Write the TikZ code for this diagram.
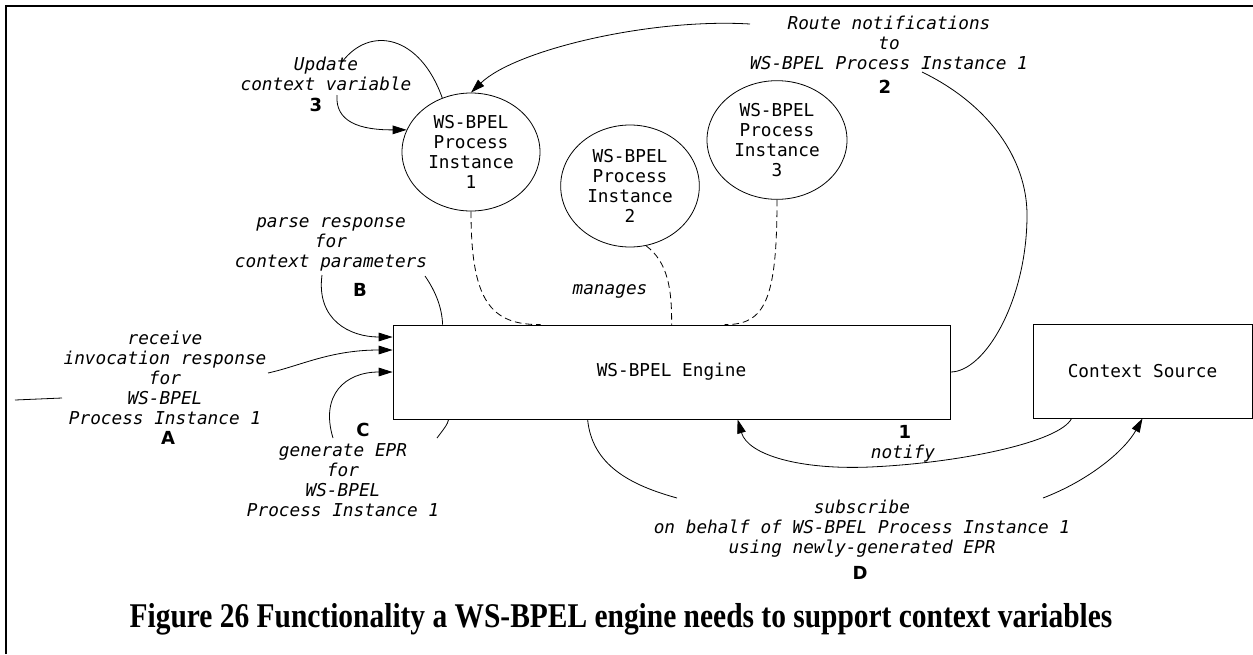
\documentclass[tikz,border=0pt]{standalone}
\usepackage{fontspec}
\usepackage{graphicx}
\usetikzlibrary{shapes.geometric,arrows.meta}
\newfontfamily\monof{DejaVu Sans Mono}
\newfontfamily\labf{DejaVu Sans}
\newfontfamily\capf{Liberation Serif}
\begin{document}
\begin{tikzpicture}[x=0.75pt,y=-0.75pt,
  mono/.style={font=\monof\fontsize{13.3}{15}\selectfont, align=center, inner sep=0pt},
  ital/.style={font=\monof\itshape\fontsize{13.3}{15}\selectfont, align=center, inner sep=0pt},
  num/.style={font=\labf\bfseries\fontsize{13.5}{15}\selectfont, inner sep=0pt},
  inst/.style={draw, ellipse, line width=0.6pt, mono},
  box/.style={draw, rectangle, line width=0.6pt, mono},
  conn/.style={line width=0.6pt},
  arr/.style={conn, -{Triangle[length=10.5pt,width=6.5pt]}},
  dsh/.style={conn, dash pattern=on 5pt off 3pt}]
\useasboundingbox (0,0) rectangle (1253,654);
\draw[line width=1.7pt] (6,654) -- (6,6) -- (1253,6);

% process instances
\node[inst, minimum width=103.5pt, minimum height=88.5pt] (pi1) at (471,152) {WS-BPEL\\Process\\Instance\\1};
\node[inst, minimum width=104pt, minimum height=91.5pt] (pi2) at (630,186) {WS-BPEL\\Process\\Instance\\2};
\node[inst, minimum width=105pt, minimum height=89pt] (pi3) at (777,140) {WS-BPEL\\Process\\Instance\\3};

% boxes
\node[box, minimum width=417.75pt, minimum height=70.5pt] (eng) at (671.5,372) {WS-BPEL Engine};
\node[box, minimum width=164.25pt, minimum height=70.5pt] (ctx) at (1142.5,371) {Context Source};

% labels
\node[ital] (upd) at (326,74) {Update\\context variable};
\node[num] (n3) at (316,105) {3};
\node[ital] (route) at (889,43) {Route notifications\\to\\WS-BPEL Process Instance 1};
\node[num] (n2) at (885,87) {2};
\node[ital] (mng) at (610,291) {manages};
\node[ital] (parse) at (331,244) {parse response\\for\\context parameters};
\node[num] (nB) at (360,290) {B};
\node[ital] (recv) at (165,378) {receive\\invocation response\\for\\WS-BPEL\\Process Instance 1};
\node[num] (nA) at (168,438) {A};
\node[num] (nC) at (363,430) {C};
\node[ital] (gen) at (343,480) {generate EPR\\for\\WS-BPEL\\Process Instance 1};
\node[ital] (subs) at (862,529) {subscribe\\on behalf of WS-BPEL Process Instance 1\\using newly-generated EPR};
\node[num] (nD) at (860,573) {D};
\node[num] (n1) at (905,432) {1};
\node[ital] (ntf) at (903,454) {notify};

\node[font=\capf\bfseries\fontsize{26}{30}\selectfont, inner sep=0pt] (cap) at (621,619)
  {\resizebox{737pt}{\height}{Figure 26 Functionality a WS-BPEL engine needs to support context variables}};

% free ends
\coordinate (u1) at (342,62);
\coordinate (u2) at (337,95);
\coordinate (r1) at (750,24);
\coordinate (r2) at (922,72);
\coordinate (p1) at (322,275);
\coordinate (p2) at (425,276);
\coordinate (a1) at (268,373);
\coordinate (c1) at (333,438);
\coordinate (c2) at (437,438);
\coordinate (s1) at (677,498);
\coordinate (s2) at (1043,498);
\coordinate (l1) at (15,400);
\coordinate (l2) at (62,398);

% connectors
\draw[conn] (pi1.118) .. controls (420,35) and (370,25) .. (u1);
\draw[arr] (u2) .. controls (335,122) and (360,130) .. (pi1.161);
\draw[arr] (r1) .. controls (650,18) and (515,50) .. (pi1.north);
\draw[conn] (r2) .. controls (990,105) and (1027,160) .. (1027,215) .. controls (1027,300) and (985,372) .. (eng.east);
\draw[dsh] (pi1.south) .. controls (471,300) and (490,325) .. ([xshift=111pt]eng.north west);
\draw[dsh] (pi2.-75) .. controls (668,262) and (672,290) .. ([xshift=209.25pt]eng.north west);
\draw[dsh] (pi3.south) .. controls (777,300) and (765,325) .. ([xshift=249pt]eng.north west);
\draw[arr] (p1) .. controls (316,320) and (350,337) .. ([yshift=26.25pt]eng.west);
\draw[conn] (p2) .. controls (436,292) and (442,308) .. ([xshift=37.5pt]eng.north west);
\draw[arr] (a1) .. controls (300,366) and (330,350) .. ([yshift=16.5pt]eng.west);
\draw[arr] (c1) .. controls (320,395) and (345,372) .. (eng.west);
\draw[conn] (c2) .. controls (443,430) and (448,424) .. ([xshift=42pt]eng.south west);
\draw[conn] ([xshift=146.25pt]eng.south west) .. controls (592,465) and (630,485) .. (s1);
\draw[arr] (s2) .. controls (1090,480) and (1125,450) .. (ctx.south);
\draw[arr] ([xshift=29.25pt]ctx.south west) .. controls (1060,442) and (960,463) .. (870,467) .. controls (800,470) and (748,455) .. ([xshift=258.75pt]eng.south west);
\draw[conn] (l1) -- (l2);
\end{tikzpicture}
\end{document}
